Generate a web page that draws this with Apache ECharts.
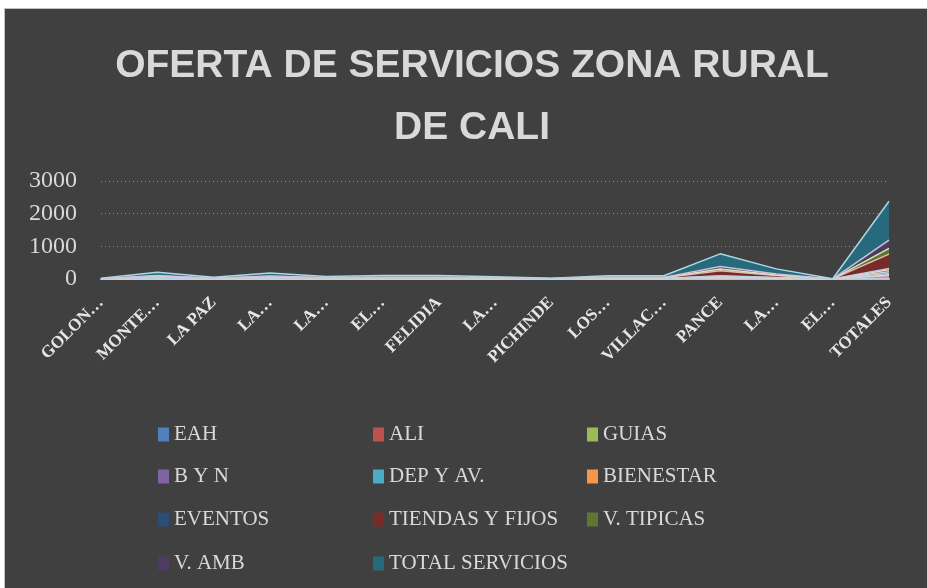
<!DOCTYPE html>
<html>
<head>
<meta charset="utf-8">
<script src="https://cdn.jsdelivr.net/npm/echarts@6/dist/echarts.min.js"></script>
<style>
  html, body { margin: 0; padding: 0; background: #ffffff; }
  #frame {
    position: absolute; left: 4px; top: 8px; width: 923px; height: 580px;
    background: #404040; border-left: 1px solid #bfbfbf; border-top: 1px solid #bfbfbf;
    box-sizing: border-box;
  }
  #chart { position: absolute; left: -4px; top: -8px; width: 927px; height: 588px; }
</style>
</head>
<body>
<div id="frame"><div id="chart"></div></div>
<script>
const categorias = ['GOLON…', 'MONTE…', 'LA PAZ', 'LA…', 'LA…', 'EL…', 'FELIDIA', 'LA…',
  'PICHINDE', 'LOS…', 'VILLAC…', 'PANCE', 'LA…', 'EL…', 'TOTALES']

const eah       = [0, 3, 1, 2, 1, 2, 2, 1, 0, 2, 2, 10, 4, 0, 30]
const ali       = [2, 10, 3, 5, 3, 4, 4, 3, 1, 4, 4, 18, 9, 0, 70]
const guias     = [0, 3, 1, 4, 1, 2, 2, 1, 1, 2, 2, 8, 3, 0, 30]
const byn       = [1, 4, 1, 3, 2, 2, 2, 2, 1, 2, 2, 12, 6, 0, 40]
const depAv     = [0, 3, 1, 2, 2, 3, 3, 2, 1, 3, 3, 18, 9, 0, 50]
const bienestar = [1, 5, 2, 4, 3, 3, 3, 2, 1, 3, 4, 20, 9, 1, 60]
const eventos   = [0, 3, 1, 3, 2, 2, 2, 2, 0, 2, 2, 14, 7, 0, 40]
const tiendas   = [4, 45, 10, 30, 15, 22, 20, 12, 4, 18, 16, 150, 60, 1, 440]
const vTipicas  = [1, 14, 3, 25, 6, 8, 9, 5, 1, 7, 8, 55, 18, 0, 180]
const vAmb      = [1, 15, 2, 12, 5, 7, 8, 5, 2, 7, 7, 80, 30, 1, 250]
const totalServ = [10, 105, 25, 90, 40, 55, 55, 35, 12, 50, 50, 385, 155, 3, 1190]

const yTicks = [0, 1000, 2000, 3000]

const series = [
  {name: 'EAH', data: eah, fill: '#4f81bd', edge: '#b9cde5'},
  {name: 'ALI', data: ali, fill: '#c0504d', edge: '#e6b9b8'},
  {name: 'GUIAS', data: guias, fill: '#9bbb59', edge: '#d7e4bd'},
  {name: 'B Y N', data: byn, fill: '#8064a2', edge: '#ccc1da'},
  {name: 'DEP Y AV.', data: depAv, fill: '#4bacc6', edge: '#b7dee8'},
  {name: 'BIENESTAR', data: bienestar, fill: '#f79646', edge: '#fcd5b5'},
  {name: 'EVENTOS', data: eventos, fill: '#2c4d75', edge: '#b9cde5'},
  {name: 'TIENDAS Y FIJOS', data: tiendas, fill: '#772c2a', edge: '#e6b9b8'},
  {name: 'V. TIPICAS', data: vTipicas, fill: '#5f7530', edge: '#d7e4bd'},
  {name: 'V. AMB', data: vAmb, fill: '#4d3b62', edge: '#ccc1da'},
  {name: 'TOTAL SERVICIOS', data: totalServ, fill: '#276a7c', edge: '#a9d8e4'}
]

const serif = "'Liberation Serif', 'DejaVu Serif', serif"

// leyenda en 3 columnas, una leyenda por nombre
const colX = [152, 367, 581]
const rowY = [418, 460, 503, 547]
const legends = series.map((s, i) => ({
  data: [s.name],
  left: colX[i % 3],
  top: rowY[Math.floor(i / 3)],
  icon: 'rect',
  itemWidth: 11,
  itemHeight: 14,
  itemGap: 4,
  textStyle: {color: '#d9d9d9', fontSize: 21, fontFamily: serif, padding: [2, 0, 0, 0]}
}))

const myChart = echarts.init(document.getElementById('chart'))
const option = {
  backgroundColor: 'transparent',
  animation: false,
  title: {
    text: 'OFERTA DE SERVICIOS ZONA RURAL\nDE CALI',
    left: 466,
    textAlign: 'center',
    top: 29,
    textStyle: {
      color: '#d9d9d9',
      fontSize: 39,
      fontWeight: 'bold',
      lineHeight: 62,
      fontFamily: "'Liberation Sans', Arial, sans-serif"
    }
  },
  legend: legends,
  grid: {left: 100, right: 39, top: 180, bottom: 310, containLabel: false},
  xAxis: {
    type: 'category',
    boundaryGap: false,
    data: categorias,
    axisLine: {lineStyle: {color: '#bfbfbf', width: 2}},
    axisTick: {show: false},
    axisLabel: {
      rotate: 45,
      interval: 0,
      color: '#e6e6e6',
      fontSize: 17,
      fontWeight: 'bold',
      fontFamily: serif,
      margin: 21
    }
  },
  yAxis: {
    type: 'value',
    min: yTicks[0],
    max: yTicks[yTicks.length - 1],
    interval: 1000,
    axisLine: {show: false},
    axisTick: {show: false},
    axisLabel: {color: '#d9d9d9', fontSize: 24, fontFamily: serif, margin: 24, formatter: v => String(v)},
    splitLine: {lineStyle: {color: '#8c8c8c', type: [1, 3], width: 1}}
  },
  series: series.map(s => ({
    name: s.name,
    type: 'line',
    stack: 'total',
    symbol: 'none',
    data: s.data,
    itemStyle: {color: s.fill},
    lineStyle: {color: s.edge, width: 1.5},
    areaStyle: {color: s.fill, opacity: 1}
  }))
}
myChart.setOption(option)
</script>
</body>
</html>
